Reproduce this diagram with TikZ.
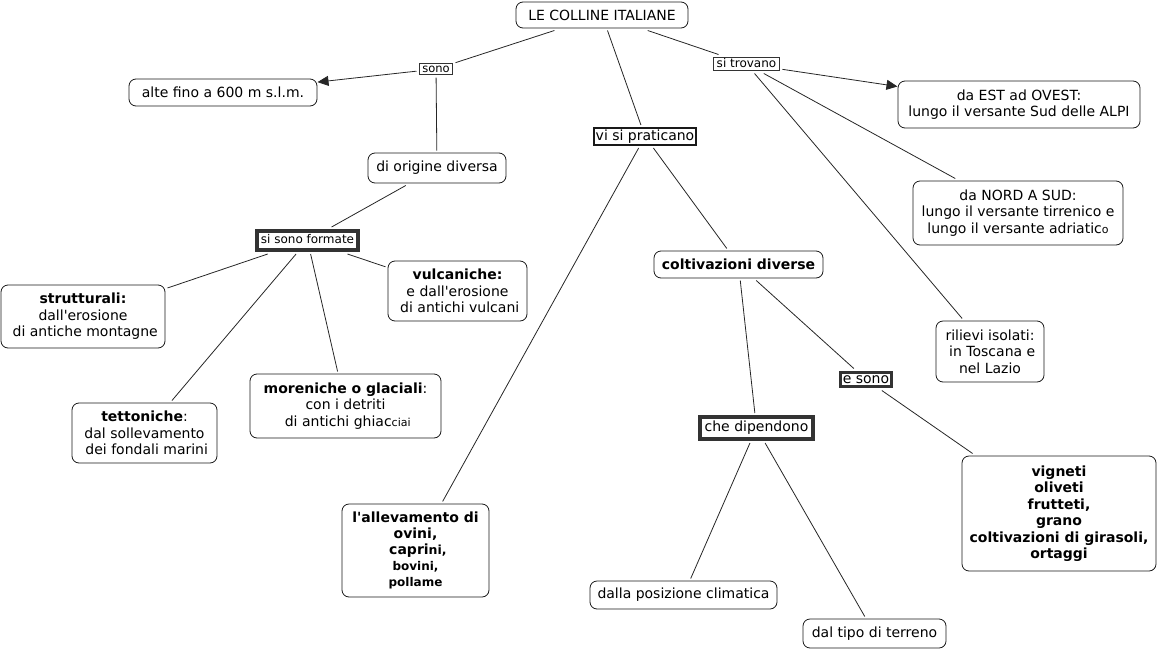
\documentclass[tikz,border=0pt]{standalone}
\usepackage{fontspec}
\setmainfont{DejaVu Sans}[Ligatures=TeXOff]
\usetikzlibrary{arrows.meta,backgrounds}
\begin{document}
\begin{tikzpicture}[x=1pt,y=-1pt,
  concept/.style={draw=black!90, line width=0.8pt, rounded corners=7pt, fill=white,
    align=center, inner sep=0pt, outer sep=2.5pt, font=\fontsize{14}{16.5}\selectfont},
  linkbox/.style={draw=black!80, fill=white, inner sep=0pt, align=center,
    font=\fontsize{14}{16}\selectfont, text height=10pt, text depth=3pt},
  conn/.style={draw=black!85, line width=0.8pt},
  arr/.style={conn, shorten >=-2pt, -{Triangle[length=11pt,width=10pt]}}
]
\useasboundingbox (0,0) rectangle (1157,651);

% concepts
\node[concept, minimum width=172pt, minimum height=26pt] (title) at (602,15) {LE COLLINE ITALIANE};
\node[concept, minimum width=188pt, minimum height=27pt] (alte) at (223,92.5) {alte fino a 600 m s.l.m.};
\node[concept, minimum width=242pt, minimum height=47pt] (daest) at (1019,104.5) {da EST ad OVEST:\\lungo il versante Sud delle ALPI};
\node[concept, minimum width=210pt, minimum height=64pt] (dinord) at (1018,213) {da NORD A SUD:\\lungo il versante tirrenico e\\lungo il versante adriatic{\fontsize{11}{12}\selectfont o}};
\node[concept, minimum width=138pt, minimum height=30pt] (origine) at (437,168) {di origine diversa};
\node[concept, minimum width=164pt, minimum height=63pt] (strutturali) at (83,316.5) {\textbf{strutturali:}\\dall'erosione\\\ di antiche montagne};
\node[concept, minimum width=139pt, minimum height=60pt] (vulcaniche) at (457.5,291) {\textbf{vulcaniche:}\\e dall'erosione\\\ di antichi vulcani};
\node[concept, minimum width=145pt, minimum height=60pt] (tettoniche) at (144.5,433) {\textbf{tettoniche}:\\dal sollevamento\\\ dei fondali marini};
\node[concept, minimum width=191pt, minimum height=64pt] (moreniche) at (345.5,406) {\textbf{moreniche o glaciali}:\\con i detriti\\\ di antichi ghiac{\fontsize{11}{12}\selectfont ciai}};
\node[concept, minimum width=169pt, minimum height=27pt] (coltivazioni) at (738.5,264.5) {\textbf{coltivazioni diverse}};
\node[concept, minimum width=108pt, minimum height=61pt] (rilievi) at (990,351.5) {rilievi isolati:\\\ in Toscana e\\nel Lazio};
\node[concept, minimum width=194pt, minimum height=115pt, font=\bfseries\fontsize{14}{16.5}\selectfont] (vigneti) at (1059,513.5) {vigneti\\oliveti\\frutteti,\\grano\\coltivazioni di girasoli,\\ortaggi};
\node[concept, minimum width=147pt, minimum height=93pt, font=\bfseries\fontsize{14}{16}\selectfont] (allevamento) at (415.5,550.5) {l'allevamento di\\ovini,\\\ capri{\fontsize{12.5}{14}\selectfont ni,}\\{\fontsize{12}{14}\selectfont bovini,}\\{\fontsize{12}{14}\selectfont pollame}};
\node[concept, minimum width=187pt, minimum height=28pt] (posizione) at (683.5,595) {dalla posizione climatica};
\node[concept, minimum width=143pt, minimum height=29pt] (tipo) at (874.5,633.5) {dal tipo di terreno};

% linking phrases
\node[linkbox, line width=1.6pt, minimum width=33pt, minimum height=11pt,
  font=\fontsize{11.5}{12}\selectfont, text height=8.5pt, text depth=1pt, outer sep=3pt] (sono) at (436,69) {sono};
\node[linkbox, line width=1.6pt, minimum width=66pt, minimum height=13pt,
  font=\fontsize{12}{13}\selectfont, text height=9pt, text depth=2.5pt, outer sep=3pt] (sitrovano) at (746.5,64) {si trovano};
\node[linkbox, draw=black!90, line width=1.8pt, minimum width=102pt, minimum height=17pt, outer sep=3pt] (praticano) at (645,136.5) {vi si praticano};
\node[linkbox, line width=4pt, minimum width=101pt, minimum height=19pt,
  font=\fontsize{12}{13}\selectfont, text height=9pt, text depth=2.5pt, outer sep=4pt] (formate) at (307.5,240.5) {si sono formate};
\node[linkbox, line width=3pt, minimum width=51pt, minimum height=14pt,
  text height=9.5pt, text depth=1pt, outer sep=4pt] (esono) at (866,379.5) {e sono};
\node[linkbox, line width=4pt, minimum width=113pt, minimum height=22pt, outer sep=4pt] (dipendono) at (756.5,428) {che dipendono};

% connectors
\begin{scope}[on background layer]
\draw[conn] (title) -- (sono);
\draw[arr] (sono) -- (alte);
\draw[conn] (sono) -- (origine);
\draw[conn] (title) -- (praticano);
\draw[conn] (title) -- (sitrovano);
\draw[arr] (sitrovano) -- (daest);
\draw[conn] (sitrovano) -- (dinord);
\draw[conn] (sitrovano) -- (rilievi);
\draw[conn] (origine) -- (formate);
\draw[conn] (formate) -- (strutturali);
\draw[conn] (formate) -- (tettoniche);
\draw[conn] (formate) -- (moreniche);
\draw[conn] (formate) -- (vulcaniche);
\draw[conn] (praticano) -- (allevamento);
\draw[conn] (praticano) -- (coltivazioni);
\draw[conn] (coltivazioni) -- (dipendono);
\draw[conn] (coltivazioni) -- (esono);
\draw[conn] (esono) -- (vigneti);
\draw[conn] (dipendono) -- (posizione);
\draw[conn] (dipendono) -- (tipo);
\end{scope}
\end{tikzpicture}
\end{document}
